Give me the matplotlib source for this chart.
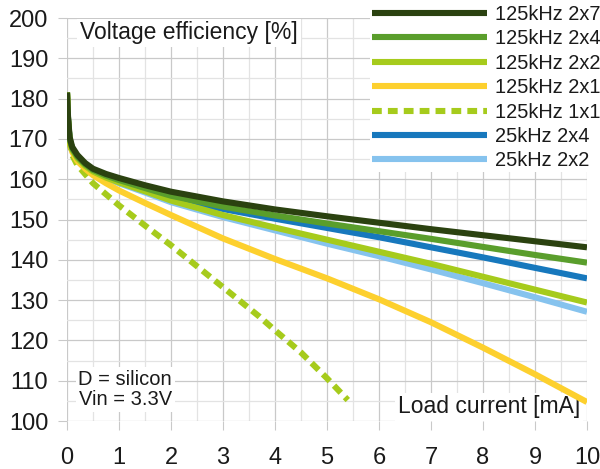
import matplotlib.pyplot as plt
from matplotlib.ticker import MultipleLocator

plt.rcParams['font.family'] = ['Liberation Sans', 'DejaVu Sans']

# Data
x = [0, 0.02, 0.05, 0.1, 0.2, 0.35, 0.5, 0.75, 1, 1.5, 2, 3, 4, 5, 6, 7, 8, 9, 10]
khz125_2x7 = [181.5, 175.5, 170.5, 168.0, 166.0, 164.0, 162.6, 161.3, 160.3, 158.5, 156.9,
              154.5, 152.5, 150.8, 149.2, 147.6, 146.1, 144.6, 143.1]
khz125_2x4 = [181.5, 175.0, 170.0, 167.6, 165.6, 163.7, 162.3, 160.9, 159.8, 157.8, 155.9,
              153.2, 151.0, 149.0, 147.1, 145.2, 143.2, 141.2, 139.3]
khz125_2x2 = [181.5, 174.8, 169.8, 167.3, 165.2, 163.3, 161.9, 160.4, 159.2, 157.0, 154.7,
              151.1, 148.0, 145.0, 142.0, 139.0, 135.8, 132.6, 129.4]
khz125_2x1 = [181.5, 174.5, 169.5, 166.8, 164.5, 162.6, 161.0, 159.0, 157.2, 154.1, 151.1,
              145.3, 140.2, 135.4, 130.2, 124.5, 118.2, 111.6, 104.7]
x_1x1 = [0, 0.02, 0.05, 0.1, 0.2, 0.5, 1, 1.5, 2, 3, 3.7, 4, 4.5, 5, 5.4]
khz125_1x1 = [181.5, 174.0, 169.0, 166.0, 163.5, 159.0, 153.5, 148.5, 143.6, 133.2,
              125.9, 122.5, 117.0, 110.6, 105.2]
khz25_2x4 = [181.5, 174.9, 169.9, 167.5, 165.4, 163.5, 162.1, 160.6, 159.5, 157.5, 155.5,
             152.6, 150.2, 147.9, 145.6, 143.1, 140.6, 138.0, 135.4]
khz25_2x2 = [181.5, 174.7, 169.7, 167.2, 165.0, 163.1, 161.7, 160.2, 159.0, 156.7, 154.3,
             150.6, 147.3, 144.0, 140.9, 137.6, 134.2, 130.7, 127.1]

fig = plt.figure(figsize=(6, 4.69), dpi=100)
ax = fig.add_axes([67 / 600, 1 - 421 / 469, 520 / 600, 403 / 469])

lw = 4.4
series = [
    (x, khz125_2x7, '125kHz 2x7', '#2b4210', '-'),
    (x, khz125_2x4, '125kHz 2x4', '#5a9e2c', '-'),
    (x, khz125_2x2, '125kHz 2x2', '#a6cb1c', '-'),
    (x, khz125_2x1, '125kHz 2x1', '#fdd02e', '-'),
    (x_1x1, khz125_1x1, '125kHz 1x1', '#a6cb1c', '--'),
    (x, khz25_2x4, '25kHz 2x4', '#1778bd', '-'),
    (x, khz25_2x2, '25kHz 2x2', '#86c3ee', '-'),
]
n = len(series)
for i, (xs, ys, lab, col, ls) in enumerate(series):
    line, = ax.plot(xs, ys, color=col, lw=lw, ls=ls, label=lab,
                    zorder=3 + n - i, solid_capstyle='butt', solid_joinstyle='round')
    if ls == '--':
        line.set_dashes((1.6, 1.0))

ax.set_xlim(0, 10)
ax.set_ylim(100, 200)
ax.xaxis.set_major_locator(MultipleLocator(1))
ax.xaxis.set_minor_locator(MultipleLocator(0.5))
ax.yaxis.set_major_locator(MultipleLocator(10))
ax.yaxis.set_minor_locator(MultipleLocator(5))
ax.grid(which='major', color='#c9c9c9', lw=0.9)
ax.grid(which='minor', color='#e3e3e3', lw=0.9)
ax.set_axisbelow(True)
for s in ax.spines.values():
    s.set_visible(False)
ax.tick_params(which='major', length=6.5, color='#c9c9c9', labelsize=17,
               labelcolor='#1a1a1a')
ax.tick_params(axis='x', pad=12)
ax.tick_params(axis='y', pad=7)
ax.tick_params(which='minor', length=0)

box = dict(facecolor='white', edgecolor='none', pad=2)
ax.text(0.25, 196.3, 'Voltage efficiency [%]', fontsize=16.5, ha='left', va='center',
        color='#1a1a1a', bbox=box, zorder=2)
ax.text(9.87, 103.5, 'Load current [mA]', fontsize=16.5, ha='right', va='center',
        color='#1a1a1a', bbox=box, zorder=2)
ax.text(1.12, 107.8, 'D = silicon\nVin = 3.3V', fontsize=14.5, ha='center', va='center',
        color='#1a1a1a', linespacing=1.1, bbox=box, zorder=2)

leg = fig.legend(loc='upper left', bbox_to_anchor=(370 / 600, 1 - 3 / 469), fontsize=14.4,
                 frameon=True, facecolor='white', edgecolor='none', framealpha=1,
                 handlelength=5.75, handletextpad=0.4, labelspacing=0.27,
                 borderpad=0.1, borderaxespad=0)
for t in leg.get_texts():
    t.set_color('#1a1a1a')

plt.savefig('out.png', dpi=100)
